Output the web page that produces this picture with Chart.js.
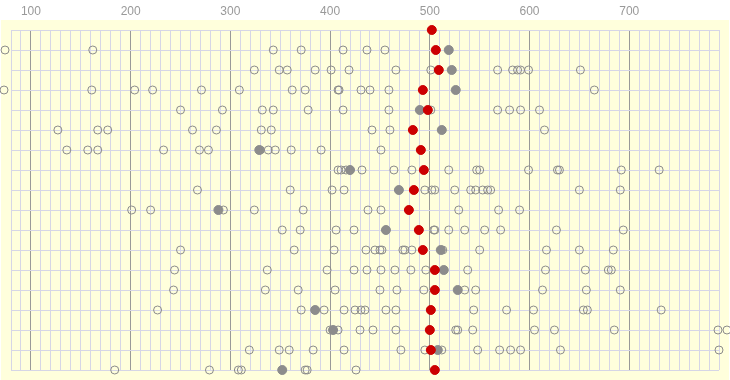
<!DOCTYPE html>
<html>
<head>
<meta charset="utf-8">
<script src="https://cdn.jsdelivr.net/npm/chart.js@4"></script>
<style>
  html, body { margin: 0; padding: 0; background: #fff; }
  #wrap { width: 730px; height: 380px; }
</style>
</head>
<body>
<div id="wrap"><canvas id="dotChart"></canvas></div>
<script>
// one entry per row, top to bottom
const openRows = [
  [],
  [74,162,343,371,413,437,455],
  [324,349,357,385,401,419,466,501,568,583,588,591,599,651],
  [73,161,204,222,271,309,362,375,408,409,431,440,459,665],
  [250,292,332,343,378,413,459,501,568,580,591,610],
  [127,167,177,262,286,331,341,442,460,615],
  [136,157,167,233,269,278,330,338,345,361,391,451],
  [408,411,416,432,464,482,519,547,550,599,628,630,692,730],
  [267,360,402,414,495,502,505,525,541,546,553,558,561,650,691],
  [201,220,293,324,373,438,451,529,569,590],
  [352,370,406,424,504,505,519,535,555,571,627,694],
  [250,364,404,436,445,450,452,473,475,482,513,550,617,650,684],
  [244,337,397,424,437,451,465,481,496,538,616,656,679,682],
  [243,335,368,405,450,467,494,535,546,613,657,691],
  [227,371,394,414,425,431,435,456,466,544,577,604,654,658,732],
  [400,408,430,443,466,526,528,543,605,625,685,789,798],
  [319,349,359,383,414,471,495,512,548,570,581,591,631,790],
  [184,279,308,311,375,377,426]
];
const grayValues = [null,519,522,526,490,512,329,420,469,288,456,511,514,528,385,403,508,352];
const redValues = [502,506,509,493,498,483,491,494,484,479,489,493,505,505,501,500,501,505];
const xTickLabels = [100,200,300,400,500,600,700];

const openPts = [];
openRows.forEach((row, i) => row.forEach(v => openPts.push({x: v, y: i})));
const grayPts = [];
grayValues.forEach((v, i) => { if (v !== null) grayPts.push({x: v, y: i}); });
const redPts = redValues.map((v, i) => ({x: v, y: i}));

const bgPlugin = {
  id: 'bg',
  beforeDraw(chart) {
    const {ctx, chartArea: a} = chart;
    ctx.save();
    ctx.fillStyle = '#ffffdc';
    ctx.fillRect(a.left - 10, a.top - 10, a.right - a.left + 20, a.bottom - a.top + 20);
    ctx.restore();
  },
  // let points just outside the axis range still be drawn
  beforeDatasetsDraw(chart) {
    const a = chart.chartArea;
    chart._savedArea = a;
    chart.chartArea = { left: a.left - 15, right: a.right + 15, top: a.top - 15, bottom: a.bottom + 15,
      width: a.width + 30, height: a.height + 30 };
  },
  afterDatasetsDraw(chart) {
    if (chart._savedArea) chart.chartArea = chart._savedArea;
  }
};

new Chart(document.getElementById('dotChart'), {
  type: 'scatter',
  data: {
    datasets: [
      { data: redPts, pointRadius: 4.5, borderWidth: 1, backgroundColor: '#cc0000', borderColor: '#cc0000', clip: false },
      { data: grayPts, pointRadius: 4.5, borderWidth: 1, backgroundColor: '#8c8c8c', borderColor: '#8c8c8c', clip: false },
      { data: openPts, pointRadius: 4, borderWidth: 1, backgroundColor: 'rgba(0,0,0,0)', borderColor: '#8c8c8c', clip: false }
    ]
  },
  options: {
    responsive: true,
    maintainAspectRatio: false,
    animation: false,
    events: [],
    layout: { padding: { left: 10, right: 10, top: 0, bottom: 10 } },
    plugins: { legend: { display: false }, tooltip: { enabled: false } },
    scales: {
      x: {
        type: 'linear',
        position: 'top',
        min: 80,
        max: 790,
        afterFit: s => { s.height = 30; },
        border: { display: false },
        grid: {
          drawTicks: false,
          color: c => (c.tick && c.tick.value % 100 === 0) ? '#999999' : '#d6d6e6'
        },
        ticks: {
          stepSize: 10,
          autoSkip: false,
          maxRotation: 0,
          padding: 11,
          color: '#999999',
          font: { family: 'Liberation Sans, Arial, sans-serif', size: 12 },
          callback: v => xTickLabels.includes(v) ? String(v) : ''
        }
      },
      y: {
        type: 'linear',
        min: 0,
        max: 17,
        reverse: true,
        afterFit: s => { s.width = 0; },
        border: { display: false },
        grid: { drawTicks: false, color: '#d6d6e6' },
        ticks: { display: false, stepSize: 1 }
      }
    }
  },
  plugins: [bgPlugin]
});
</script>
</body>
</html>
